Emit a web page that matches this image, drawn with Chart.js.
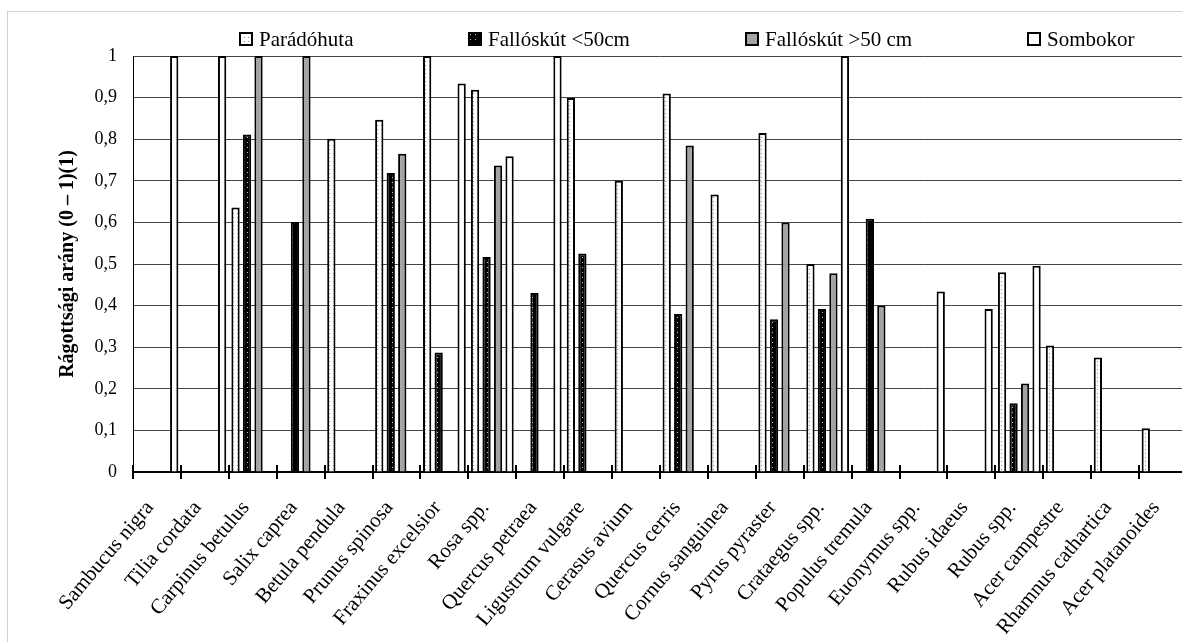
<!DOCTYPE html>
<html>
<head>
<meta charset="utf-8">
<script src="https://cdn.jsdelivr.net/npm/chart.js@4.4.0/dist/chart.umd.min.js"></script>
<style>
  html, body { margin: 0; padding: 0; background: #fff; overflow: hidden; }
  #frame { position: absolute; left: 7px; top: 11px; width: 1300px; height: 700px;
           border-left: 1px solid #d0d0d0; border-top: 1px solid #d0d0d0; }
  #wrap { position: absolute; left: 0; top: 0; width: 1200px; height: 642px; }
  .lg { position: absolute; top: 28px; height: 22px; display: flex; align-items: center;
        font: 21px 'Liberation Serif', serif; color: #000; white-space: nowrap; }
  .lg canvas { margin-right: 6px; }
</style>
</head>
<body>
<div id="frame"></div>
<div id="wrap"><canvas id="chart"></canvas></div>
<script>
// adatok
const species = [
  'Sambucus nigra', 'Tilia cordata', 'Carpinus betulus', 'Salix caprea', 'Betula pendula',
  'Prunus spinosa', 'Fraxinus excelsior', 'Rosa spp.', 'Quercus petraea', 'Ligustrum vulgare',
  'Cerasus avium', 'Quercus cerris', 'Cornus sanguinea', 'Pyrus pyraster', 'Crataegus spp.',
  'Populus tremula', 'Euonymus spp.', 'Rubus idaeus', 'Rubus spp.', 'Acer campestre',
  'Rhamnus cathartica', 'Acer platanoides'
];
const seriesNames = ['Parádóhuta', 'Fallóskút <50cm', 'Fallóskút >50 cm', 'Sombokor'];

const paradohuta = [null, null, 0.636, null, 0.801, 0.847, 1, 0.919, null, 0.899,
  0.70, 0.910, 0.667, 0.815, 0.500, null, null, null, 0.480, 0.304, 0.275, 0.105];
const falloskutAlso = [null, null, 0.811, 0.601, null, 0.719, 0.287, 0.517, 0.430, 0.525,
  null, 0.380, null, 0.367, 0.392, 0.609, null, null, 0.165, null, null, null];
const falloskutFelso = [null, null, 1, 1, null, 0.765, null, 0.737, null, null,
  null, 0.785, null, 0.600, 0.478, 0.400, null, null, 0.213, null, null, null];
const sombokor = [1, 1, null, null, null, null, 0.934, 0.759, 1, null,
  null, null, null, null, 1, null, 0.434, 0.392, 0.496, null, null, null];

const yTicks = [0, 0.1, 0.2, 0.3, 0.4, 0.5, 0.6, 0.7, 0.8, 0.9, 1];
const yTitle = 'Rágottsági arány (0 – 1)(1)';

// legend helyek (csak elrendezés)
const legendLeft = [239, 468, 745, 1027];

const serif = "'Liberation Serif', 'Times New Roman', serif";

// mintázatok
const makePattern = (w, h, bg, dot, dx, dy, ds) => {
  const c = document.createElement('canvas');
  c.width = w;
  c.height = h;
  const g = c.getContext('2d');
  g.fillStyle = bg;
  g.fillRect(0, 0, w, h);
  g.fillStyle = dot;
  g.fillRect(dx, dy, ds, ds);
  return g.createPattern(c, 'repeat');
};

const fills = [
  makePattern(4, 4, '#ffffff', '#8a8a8a', 1, 1, 1),
  makePattern(5, 5, '#000000', '#c8c8c8', 2, 2, 1),
  '#a3a3a3',
  '#ffffff'
];
const allData = [paradohuta, falloskutAlso, falloskutFelso, sombokor];

// kereszt alakú osztásjelek az x tengelyen
const crossTicks = {
  id: 'crossTicks',
  afterDatasetsDraw(chart) {
    const x = chart.scales.x;
    const ctx = chart.ctx;
    const step = x.width / species.length;
    ctx.save();
    ctx.strokeStyle = '#000';
    ctx.lineWidth = 2;
    ctx.beginPath();
    for (let i = 0; i <= species.length; i++) {
      const px = Math.round(x.left + i * step);
      ctx.moveTo(px, x.top - 7);
      ctx.lineTo(px, x.top + 7);
    }
    ctx.stroke();
    ctx.restore();
  }
};

const chart = new Chart(document.getElementById('chart'), {
  type: 'bar',
  data: {
    labels: species,
    datasets: seriesNames.map((name, i) => ({
      label: name,
      data: allData[i],
      backgroundColor: fills[i],
      borderColor: '#000',
      borderWidth: 2,
      borderSkipped: 'start',
      categoryPercentage: 0.96,
      barPercentage: 0.72
    }))
  },
  options: {
    responsive: true,
    maintainAspectRatio: false,
    animation: false,
    layout: { padding: { top: 56, right: 13, bottom: 0, left: 0 } },
    plugins: {
      legend: { display: false },
      tooltip: { enabled: false }
    },
    scales: {
      x: {
        offset: true,
        grid: { display: false },
        border: { color: '#000', width: 2 },
        ticks: {
          autoSkip: false,
          minRotation: 50,
          maxRotation: 50,
          padding: 16,
          labelOffset: -7,
          color: '#000',
          font: { family: serif, size: 21 }
        },
        afterFit: (scale) => { scale.height = 170; }
      },
      y: {
        min: 0,
        max: 1,
        afterBuildTicks: (scale) => { scale.ticks = yTicks.map((v) => ({ value: v })); },
        grid: { color: '#454545', lineWidth: 1, drawTicks: false },
        border: { color: '#000', width: 1 },
        ticks: {
          padding: 16,
          color: '#000',
          font: { family: serif, size: 18 },
          callback: (v) => String(Math.round(v * 10) / 10).replace('.', ',')
        },
        title: {
          display: true,
          text: yTitle,
          color: '#000',
          font: { family: serif, size: 20, weight: 'bold' },
          padding: { top: 56, bottom: 0 }
        },
        afterFit: (scale) => { scale.width = 133; }
      }
    }
  },
  plugins: [crossTicks]
});

// legend HTML-ben
seriesNames.forEach((name, i) => {
  const item = document.createElement('div');
  item.className = 'lg';
  item.style.left = legendLeft[i] + 'px';
  const sw = document.createElement('canvas');
  sw.width = 14;
  sw.height = 14;
  const g = sw.getContext('2d');
  g.fillStyle = fills[i];
  g.fillRect(0, 0, 14, 14);
  g.strokeStyle = '#000';
  g.lineWidth = 2;
  g.strokeRect(1, 1, 12, 12);
  item.appendChild(sw);
  item.appendChild(document.createTextNode(name));
  document.body.appendChild(item);
});
</script>
</body>
</html>
